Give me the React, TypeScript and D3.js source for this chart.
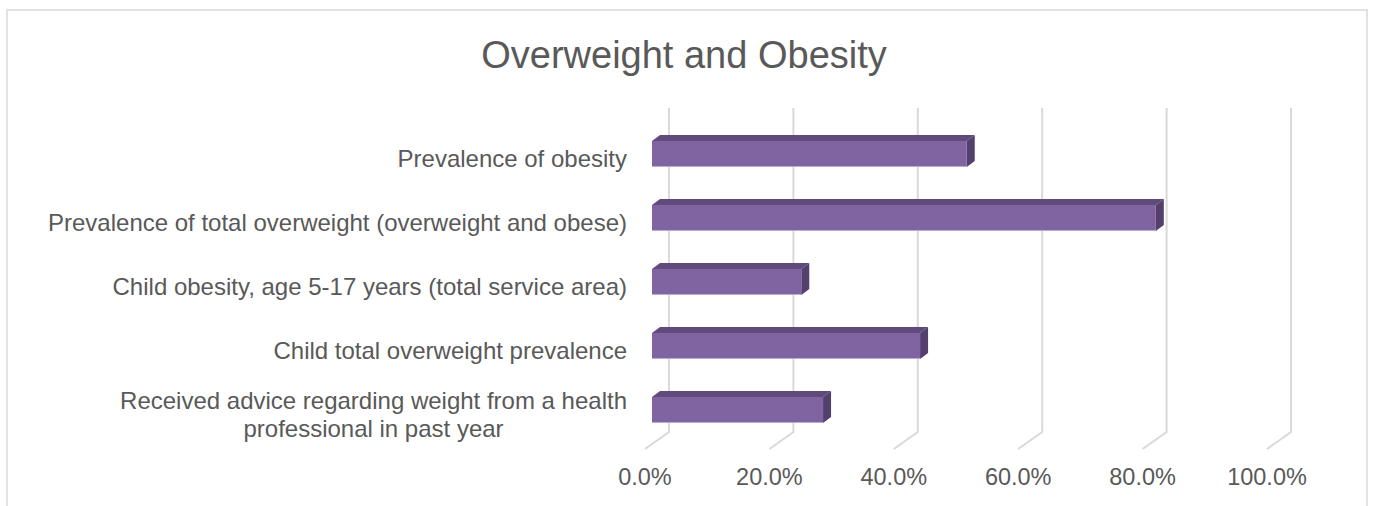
import * as d3 from "d3";
import { useEffect, useRef } from "react";

const categories: string[][] = [
    ["Prevalence of obesity"],
    ["Prevalence of total overweight (overweight and obese)"],
    ["Child obesity, age 5-17 years (total service area)"],
    ["Child total overweight prevalence"],
    ["Received advice regarding weight from a health", "professional in past year"],
];
const values: number[] = [0.506, 0.81, 0.24, 0.431, 0.275];
const tickValues: number[] = [0, 0.2, 0.4, 0.6, 0.8, 1.0];

const width = 1373;
const height = 506;
const textColor = "#595959";
const gridColor = "#d9d9d9";

// oblique projection: back wall -> front edge
const depthX = -24;
const depthY = 17;
const backX0 = 669;
const gridTop = 108;
const floorBack = 432;
// bar sits part way into the depth
const barFrontX0 = 652;
const barDx = 8;
const barDy = -6;
const barH = 26;

const App = () => {
    const ref = useRef<SVGSVGElement>(null);

    useEffect(() => {
        const svg = d3.select(ref.current);
        svg.selectAll("*").remove();

        const x = d3.scaleLinear().domain([0, 1]).range([0, 622]);
        const keys = categories.map(c => c.join(" "));
        const y = d3.scaleBand().domain(keys).range([122, 442]).padding(0);

        // chart border
        svg.append("rect")
            .attr("x", 7).attr("y", 10)
            .attr("width", 1360).attr("height", 540)
            .attr("fill", "white")
            .attr("stroke", gridColor)
            .attr("stroke-width", 1.5);

        svg.append("text")
            .attr("x", 684).attr("y", 68)
            .attr("text-anchor", "middle")
            .attr("fill", textColor)
            .style("font-family", "'Liberation Sans', Arial, sans-serif")
            .style("font-size", "38px")
            .text("Overweight and Obesity");

        // gridlines: back wall vertical + floor diagonal
        svg.append("g")
            .selectAll("path")
            .data(tickValues)
            .join("path")
            .attr("d", d => {
                const bx = backX0 + x(d);
                return `M${bx},${gridTop}L${bx},${floorBack}L${bx + depthX},${floorBack + depthY}`;
            })
            .attr("fill", "none")
            .attr("stroke", gridColor)
            .attr("stroke-width", 2);

        // tick labels on front edge
        svg.append("g")
            .selectAll("text")
            .data(tickValues)
            .join("text")
            .attr("x", d => backX0 + depthX + x(d))
            .attr("y", 485)
            .attr("text-anchor", "middle")
            .attr("fill", textColor)
            .style("font-family", "'Liberation Sans', Arial, sans-serif")
            .style("font-size", "23.5px")
            .text(d => d3.format(".1%")(d));

        // bars
        const bars = svg.append("g")
            .selectAll("g")
            .data(values.map((v, i) => ({ v, key: keys[i] })))
            .join("g");

        const top = (d: { key: string }) => (y(d.key) ?? 0) + (y.bandwidth() - barH) / 2;
        const end = (d: { v: number }) => barFrontX0 + x(d.v);

        bars.append("path")
            .attr("d", d => {
                const t = top(d);
                return `M${barFrontX0},${t}L${barFrontX0 + barDx},${t + barDy}L${end(d) + barDx},${t + barDy}L${end(d)},${t}Z`;
            })
            .attr("fill", "#604a7b");
        bars.append("path")
            .attr("d", d => {
                const t = top(d);
                const e = end(d);
                return `M${e},${t}L${e + barDx},${t + barDy}L${e + barDx},${t + barH + barDy}L${e},${t + barH}Z`;
            })
            .attr("fill", "#53406c");
        bars.append("rect")
            .attr("x", barFrontX0)
            .attr("y", d => top(d))
            .attr("width", d => x(d.v))
            .attr("height", barH)
            .attr("fill", "#8064a2");
        bars.append("line")
            .attr("x1", barFrontX0)
            .attr("x2", d => end(d))
            .attr("y1", d => top(d) + barH - 0.5)
            .attr("y2", d => top(d) + barH - 0.5)
            .attr("stroke", "#b9acd0")
            .attr("stroke-width", 1);

        // category labels, lines centred, block right-aligned
        const lineH = 28;
        categories.forEach((lines, i) => {
            const cy = (y(keys[i]) ?? 0) + y.bandwidth() / 2 + 4;
            const t = svg.append("text")
                .attr("text-anchor", "middle")
                .attr("fill", textColor)
                .style("font-family", "'Liberation Sans', Arial, sans-serif")
                .style("font-size", "24px");
            lines.forEach((line, j) => {
                t.append("tspan")
                    .attr("x", 0)
                    .attr("y", cy + (j - (lines.length - 1) / 2) * lineH + 8.5)
                    .text(line);
            });
            const w = (t.node() as SVGTextElement).getBBox().width;
            t.attr("transform", `translate(${627 - w / 2},0)`);
        });
    }, []);

    return (
        <svg
            ref={ref}
            width={width}
            height={height}
            style={{ position: "absolute", left: 0, top: 0, background: "white" }}
        />
    );
};

export default App;
